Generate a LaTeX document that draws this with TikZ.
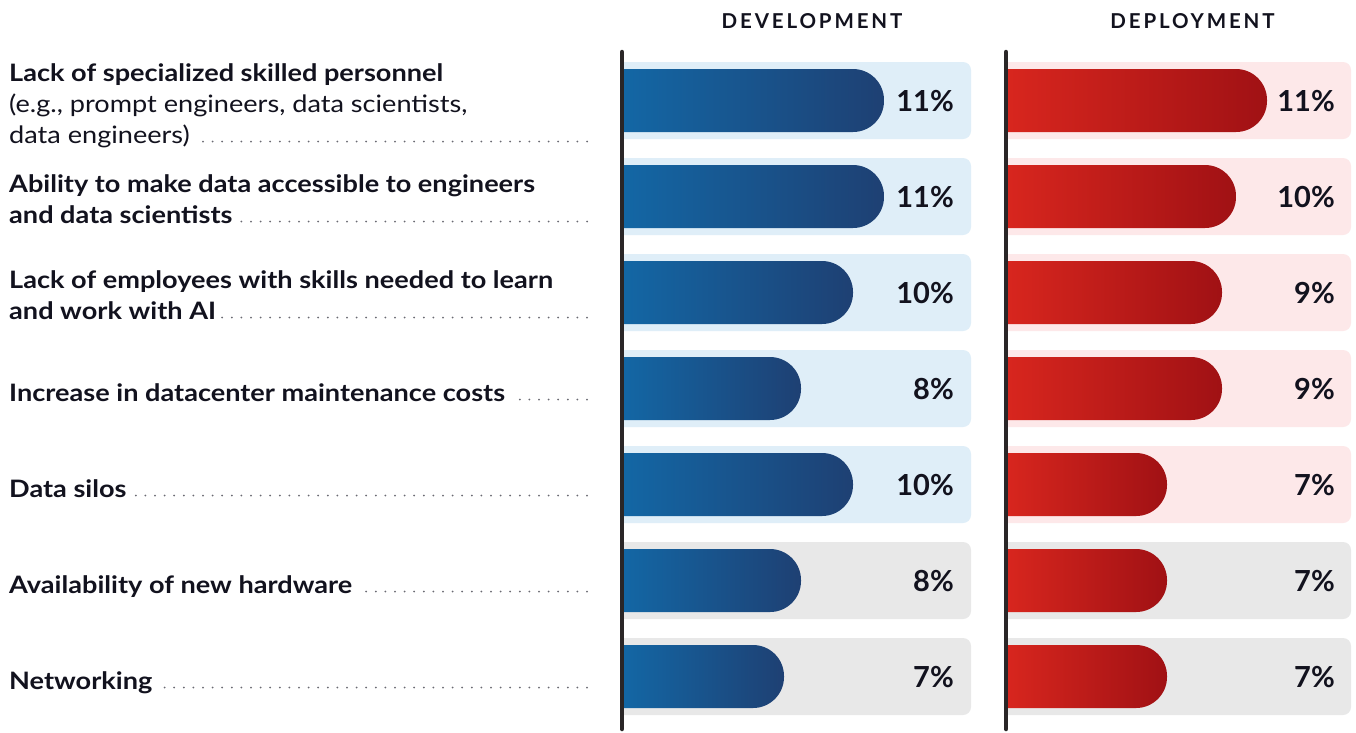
\documentclass[tikz,border=0pt]{standalone}
\usepackage{fontspec}
\setmainfont{Lato}
\newfontfamily\lblfont{Lato}[FakeStretch=1.13]
\definecolor{ink}{HTML}{12121E}
\definecolor{axisc}{HTML}{2A2627}
\definecolor{devL}{HTML}{1367A5}
\definecolor{devR}{HTML}{1E4073}
\definecolor{depL}{HTML}{D8261E}
\definecolor{depR}{HTML}{A01114}
\definecolor{bgblue}{HTML}{DFEEF8}
\definecolor{bgpink}{HTML}{FDE8E9}
\definecolor{bggray}{HTML}{E8E8E8}
\definecolor{dotc}{HTML}{6A6A72}
\begin{document}
\begin{tikzpicture}[x=1pt,y=-1pt,
  lbl/.style={anchor=base west, inner sep=0, text=ink, font=\lblfont\fontsize{24}{28}\selectfont\bfseries},
  lblr/.style={anchor=base west, inner sep=0, text=ink, font=\lblfont\fontsize{24}{28}\selectfont},
  pct/.style={anchor=base east, inner sep=0, text=ink, font=\fontsize{29}{32}\selectfont\bfseries},
  hdr/.style={anchor=base, inner sep=0, text=ink, font=\fontsize{20.5}{24}\selectfont\bfseries\addfontfeature{LetterSpace=14}},
  leader/.style={draw=dotc, line width=2pt, line cap=round, dash pattern=on 0pt off 9.6pt},
  axisline/.style={draw=axisc, line width=4.5pt, line cap=round}]
\useasboundingbox (0,0) rectangle (1356,732);
\fill[white] (0,0) rectangle (1356,732);

% headers
\node[hdr] (hdev) at (812,28) {DEVELOPMENT};
\node[hdr] (hdep) at (1192.5,28) {DEPLOYMENT};

% rows: index / dev end / dev pct / dep end / dep pct / bg dev / bg dep
\foreach \i/\d/\p/\e/\q/\ba/\bb in {
  0/884/11/1267/11/bgblue/bgpink,
  1/884/11/1236/10/bgblue/bgpink,
  2/853/10/1222/9/bgblue/bgpink,
  3/801/8/1222/9/bgblue/bgpink,
  4/853/10/1167/7/bgblue/bgpink,
  5/801/8/1167/7/bggray/bggray,
  6/784/7/1167/7/bggray/bggray}{
  \pgfmathsetmacro{\t}{62+96*\i}
  \pgfmathsetmacro{\b}{\t+77}
  \pgfmathsetmacro{\bt}{\t+7}
  \pgfmathsetmacro{\bbm}{\t+70}
  \pgfmathsetmacro{\base}{\t+49}
  % backgrounds
  \fill[\ba] (622,\t) [rounded corners=8pt] -- (971,\t) -- (971,\b) [sharp corners] -- (622,\b) -- cycle;
  \fill[\bb] (1006,\t) [rounded corners=8pt] -- (1351,\t) -- (1351,\b) [sharp corners] -- (1006,\b) -- cycle;
  % bars
  \shade[left color=devL, right color=devR] (622,\bt) [rounded corners=31pt] -- (\d,\bt) -- (\d,\bbm) [sharp corners] -- (622,\bbm) -- cycle;
  \shade[left color=depL, right color=depR] (1006,\bt) [rounded corners=31pt] -- (\e,\bt) -- (\e,\bbm) [sharp corners] -- (1006,\bbm) -- cycle;
  % values
  \node[pct] (pd\i) at (954,\base) {\p\%};
  \node[pct] (pq\i) at (1335,\base) {\q\%};
}

% axes
\coordinate (ad1) at (622,52);
\coordinate (ad2) at (622,729);
\coordinate (aq1) at (1006,52);
\coordinate (aq2) at (1006,729);
\draw[axisline] (ad1) -- (ad2);
\draw[axisline] (aq1) -- (aq2);

% labels
\node[lbl] (l1a) at (9,81) {Lack of specialized skilled personnel};
\node[lblr] (l1b) at (9,112) {(e.g., prompt engineers, data scientists,};
\node[lblr] (l1c) at (9,143) {data engineers)};
\node[lbl] (l2a) at (9,192) {Ability to make data accessible to engineers};
\node[lbl] (l2b) at (9,223) {and data scientists};
\node[lbl] (l3a) at (9,288) {Lack of employees with skills needed to learn};
\node[lbl] (l3b) at (9,319) {and work with AI};
\node[lbl] (l4) at (9,401) {Increase in datacenter maintenance costs};
\node[lbl] (l5) at (9,497) {Data silos};
\node[lbl] (l6) at (9,593) {Availability of new hardware};
\node[lbl] (l7) at (9,689) {Networking};

% leaders (drawn from the right end so the last dot sits at x=587)
\coordinate (lend) at (587,0);
\foreach \n in {l1c,l2b,l3b,l4,l5,l6,l7}{
  \draw[leader, transform canvas={yshift=1.5pt}] (\n.base east -| lend) -- ([xshift=5pt]\n.base east);
}
\end{tikzpicture}
\end{document}
